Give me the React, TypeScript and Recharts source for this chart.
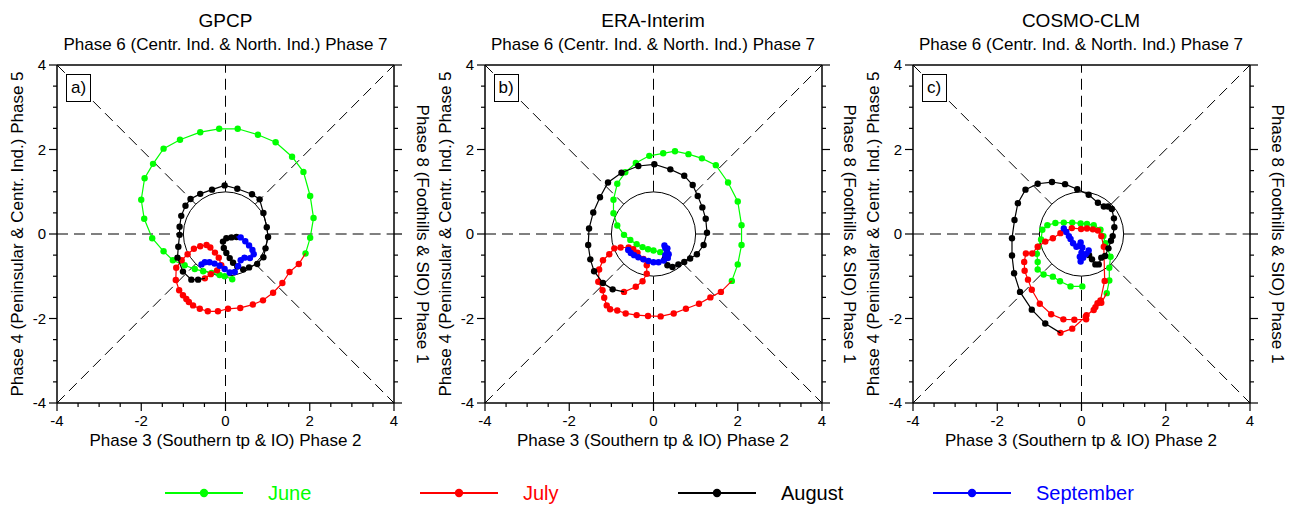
import React from 'react';
import { ScatterChart, Scatter, XAxis, YAxis, ReferenceLine, ReferenceDot } from 'recharts';

type Pt = [number, number];

const MONTHS = ['June', 'July', 'August', 'September'];
const MONTH_COLORS = ['#00ff00', '#ff0000', '#000000', '#0000ff'];
const PANEL_TITLES = ['GPCP', 'ERA-Interim', 'COSMO-CLM'];
const PANEL_TAGS = ['a)', 'b)', 'c)'];
const AXIS_TICKS = [-4, -3.5, -3, -2.5, -2, -1.5, -1, -0.5, 0, 0.5, 1, 1.5, 2, 2.5, 3, 3.5, 4];
const LABELED_TICKS = [-4, -2, 0, 2, 4];
const TOP_LABEL = 'Phase 6 (Centr. Ind. & North. Ind.) Phase 7';
const BOTTOM_LABEL = 'Phase 3 (Southern tp & IO) Phase 2';
const LEFT_LABEL = 'Phase 4 (Peninsular & Centr. Ind.) Phase 5';
const RIGHT_LABEL = 'Phase 8 (Foothills & SIO) Phase 1';

// GPCP (RMM1, RMM2) per day
const gpcpJune: Pt[] = [
  [0.16, -1.07], [-0.02, -1.0], [-0.14, -0.97], [-0.33, -0.92], [-0.53, -0.88], [-0.73, -0.83],
  [-0.97, -0.74], [-1.25, -0.62], [-1.47, -0.41], [-1.74, -0.1], [-1.93, 0.36], [-2.0, 0.81],
  [-1.92, 1.32], [-1.72, 1.66], [-1.47, 2.02], [-1.08, 2.23], [-0.6, 2.41], [-0.15, 2.49],
  [0.29, 2.49], [0.77, 2.35], [1.19, 2.17], [1.58, 1.83], [1.85, 1.47], [2.01, 0.9],
  [2.09, 0.38], [2.01, -0.09], [1.9, -0.46],
];
const gpcpJuly: Pt[] = [
  [1.74, -0.71], [1.52, -0.9], [1.35, -1.16], [1.13, -1.39], [0.89, -1.57], [0.65, -1.67],
  [0.35, -1.75], [0.06, -1.77], [-0.18, -1.83], [-0.42, -1.83], [-0.61, -1.77], [-0.77, -1.69],
  [-0.87, -1.61], [-0.93, -1.54], [-1.01, -1.45], [-1.1, -1.33], [-1.18, -1.09], [-1.17, -0.8],
  [-1.04, -0.62], [-0.9, -0.48], [-0.75, -0.35], [-0.6, -0.29], [-0.45, -0.26], [-0.36, -0.32],
  [-0.25, -0.44], [-0.16, -0.56], [-0.1, -0.74], [-0.2, -0.86], [-0.35, -0.95], [-0.49, -1.05],
];
const gpcpAugust: Pt[] = [
  [-0.65, -1.08], [-0.81, -1.08], [-1.01, -0.89], [-1.14, -0.56], [-1.12, -0.3], [-1.09, -0.02],
  [-1.09, 0.17], [-1.05, 0.43], [-0.95, 0.67], [-0.83, 0.83], [-0.6, 0.95], [-0.32, 1.05],
  [-0.02, 1.15], [0.28, 1.07], [0.63, 0.94], [0.81, 0.82], [0.9, 0.5], [0.98, 0.16],
  [1.01, -0.07], [0.95, -0.34], [0.9, -0.55], [0.75, -0.71], [0.56, -0.79], [0.42, -0.84],
  [0.28, -0.77], [0.18, -0.68], [0.1, -0.57], [0.02, -0.45], [-0.04, -0.33], [-0.06, -0.18],
  [0.02, -0.1], [0.14, -0.08], [0.26, -0.07],
];
const gpcpSeptember: Pt[] = [
  [0.36, -0.08], [0.47, -0.17], [0.56, -0.27], [0.64, -0.38], [0.67, -0.48], [0.58, -0.57],
  [0.45, -0.56], [0.36, -0.62], [0.3, -0.76], [0.22, -0.9], [0.1, -0.91], [-0.02, -0.83],
  [-0.14, -0.75], [-0.26, -0.7], [-0.38, -0.67], [-0.49, -0.67], [-0.57, -0.72],
];

// ERA-Interim
const eraJune: Pt[] = [
  [0.16, -0.43], [0.0, -0.39], [-0.13, -0.36], [-0.26, -0.31], [-0.4, -0.24], [-0.55, -0.14],
  [-0.7, -0.02], [-0.86, 0.2], [-0.95, 0.49], [-0.95, 0.81], [-0.86, 1.19], [-0.67, 1.46],
  [-0.42, 1.68], [-0.1, 1.85], [0.23, 1.91], [0.51, 1.96], [0.83, 1.89], [1.15, 1.79],
  [1.48, 1.63], [1.77, 1.22], [2.0, 0.77], [2.09, 0.21], [2.09, -0.26], [2.0, -0.72],
  [1.86, -1.11],
];
const eraJuly: Pt[] = [
  [1.6, -1.37], [1.35, -1.5], [1.08, -1.65], [0.77, -1.77], [0.48, -1.88], [0.17, -1.95],
  [-0.13, -1.94], [-0.4, -1.92], [-0.66, -1.88], [-0.86, -1.81], [-1.03, -1.78], [-1.11, -1.69],
  [-1.17, -1.51], [-1.21, -1.33], [-1.31, -1.13], [-1.29, -0.84], [-1.2, -0.62], [-1.05, -0.48],
  [-0.93, -0.34], [-0.78, -0.32], [-0.59, -0.32], [-0.48, -0.36], [-0.38, -0.44], [-0.24, -0.59],
  [-0.16, -0.74], [-0.16, -0.94], [-0.26, -1.12], [-0.42, -1.25], [-0.7, -1.37],
];
const eraAugust: Pt[] = [
  [-0.97, -1.31], [-1.2, -1.16], [-1.41, -0.88], [-1.5, -0.6], [-1.55, -0.26], [-1.53, 0.13],
  [-1.43, 0.51], [-1.27, 0.87], [-1.08, 1.22], [-0.76, 1.45], [-0.36, 1.61], [0.02, 1.65],
  [0.4, 1.53], [0.73, 1.38], [0.93, 1.16], [1.05, 0.9], [1.16, 0.63], [1.24, 0.36],
  [1.27, 0.03], [1.19, -0.26], [1.03, -0.48], [0.87, -0.58], [0.73, -0.66], [0.59, -0.72],
  [0.45, -0.78], [0.33, -0.74], [0.27, -0.58],
];
const eraSeptember: Pt[] = [
  [0.28, -0.5], [0.32, -0.42], [0.28, -0.33], [0.26, -0.27], [0.33, -0.34], [0.36, -0.48],
  [0.34, -0.57], [0.24, -0.63], [0.12, -0.67], [0.0, -0.67], [-0.12, -0.64], [-0.24, -0.6],
  [-0.36, -0.55], [-0.46, -0.5], [-0.54, -0.45], [-0.6, -0.38],
];

// COSMO-CLM
const cosmoJune: Pt[] = [
  [0.02, -1.24], [-0.26, -1.24], [-0.51, -1.12], [-0.68, -1.01], [-0.9, -0.96], [-1.04, -0.84],
  [-1.04, -0.66], [-1.06, -0.47], [-1.02, -0.3], [-0.96, -0.13], [-0.93, 0.1], [-0.81, 0.21],
  [-0.62, 0.26], [-0.42, 0.27], [-0.22, 0.27], [-0.02, 0.25], [0.13, 0.24], [0.29, 0.21],
  [0.45, 0.1], [0.52, -0.05], [0.57, -0.22], [0.69, -0.54], [0.66, -0.8], [0.66, -1.1],
  [0.6, -1.4],
];
const cosmoJuly: Pt[] = [
  [0.47, -1.63], [0.38, -1.64], [0.29, -1.8], [0.12, -1.92], [0.11, -2.02], [-0.17, -2.03],
  [-0.43, -2.02], [-0.72, -1.9], [-0.99, -1.65], [-1.18, -1.32], [-1.27, -1.08], [-1.35, -0.87],
  [-1.36, -0.66], [-1.32, -0.46], [-1.17, -0.46], [-1.04, -0.3], [-0.86, -0.18], [-0.68, -0.1],
  [-0.5, 0.02], [-0.23, 0.14], [-0.01, 0.12], [0.13, 0.13], [0.27, 0.11], [0.39, 0.08],
  [0.47, -0.05], [0.53, -0.3], [0.55, -1.11], [0.45, -1.57], [0.33, -1.73], [0.1, -1.96],
  [-0.22, -2.24], [-0.5, -2.34],
];
const cosmoAugust: Pt[] = [
  [-0.86, -2.12], [-1.18, -1.79], [-1.46, -1.37], [-1.6, -0.93], [-1.65, -0.51], [-1.65, -0.1],
  [-1.59, 0.33], [-1.51, 0.73], [-1.33, 1.05], [-1.04, 1.19], [-0.7, 1.23], [-0.39, 1.18],
  [-0.1, 1.06], [0.17, 0.93], [0.39, 0.74], [0.53, 0.65], [0.63, 0.65], [0.72, 0.59],
  [0.77, 0.37], [0.78, 0.16], [0.74, -0.05], [0.7, -0.16], [0.64, -0.34], [0.56, -0.52],
  [0.47, -0.56], [0.41, -0.72], [0.33, -0.72], [0.25, -0.6], [0.18, -0.5],
];
const cosmoSeptember: Pt[] = [
  [0.17, -0.39], [0.1, -0.48], [0.04, -0.56], [-0.02, -0.65], [-0.04, -0.54], [0.0, -0.44],
  [0.02, -0.32], [-0.02, -0.2], [-0.05, -0.28], [-0.12, -0.3], [-0.2, -0.22], [-0.26, -0.12],
  [-0.3, -0.05], [-0.36, 0.05], [-0.42, 0.13],
];

const PANEL_DATA: Pt[][][] = [
  [gpcpJune, gpcpJuly, gpcpAugust, gpcpSeptember],
  [eraJune, eraJuly, eraAugust, eraSeptember],
  [cosmoJune, cosmoJuly, cosmoAugust, cosmoSeptember],
];

// dashed phase dividers, from the unit circle out to the frame
const D = Math.SQRT1_2;
const GUIDES: [Pt, Pt][] = [
  [[-4, 0], [-1, 0]], [[1, 0], [4, 0]], [[0, -4], [0, -1]], [[0, 1], [0, 4]],
  [[-4, 4], [-D, D]], [[D, D], [4, 4]], [[-4, -4], [-D, -D]], [[D, -D], [4, -4]],
];

const W = 427;
const H = 460;
const PANEL_LEFT = [0, 427.5, 855.5];
const AX = { top: 65, bottom: 57, left: 57, right: 33 };
const PLOT_W = W - AX.left - AX.right;
const FONT = '"Liberation Sans", Arial, Helvetica, sans-serif';
const frame = { stroke: '#000', strokeWidth: 1.5 };

const makeTick = (side: 'top' | 'bottom' | 'left' | 'right') => (props: any) => {
  const { x, y, payload } = props;
  const v = payload.value;
  const major = LABELED_TICKS.includes(v);
  const len = major ? 8 : 4;
  let line = null;
  let label = null;
  if (side === 'bottom') {
    line = <line x1={x} y1={y} x2={x} y2={y + len} stroke="#000" strokeWidth={1.2} />;
    if (major) label = <text x={x} y={y + 23} textAnchor="middle" fontSize={15} fill="#000">{v}</text>;
  } else if (side === 'top') {
    line = <line x1={x} y1={y} x2={x} y2={y - len} stroke="#000" strokeWidth={1.2} />;
  } else if (side === 'left') {
    line = <line x1={x} y1={y} x2={x - len} y2={y} stroke="#000" strokeWidth={1.2} />;
    if (major) label = <text x={x - 11} y={y + 5} textAnchor="end" fontSize={15} fill="#000">{v}</text>;
  } else {
    line = <line x1={x} y1={y} x2={x + len} y2={y} stroke="#000" strokeWidth={1.2} />;
  }
  return <g>{line}{label}</g>;
};

const dotShape = (color: string) => (p: any) =>
  p.payload && p.payload.link ? <g /> : <circle cx={p.cx} cy={p.cy} r={3.2} fill={color} />;

function buildSeries(months: Pt[][]) {
  return months.map((pts, i) => {
    const data: any[] = pts.map(([x, y]) => ({ x, y }));
    if (i === 0) return data;
    const prev = months[i - 1][months[i - 1].length - 1];
    return [{ x: prev[0], y: prev[1], link: true }, ...data];
  });
}

const textBase: React.CSSProperties = {
  position: 'absolute',
  whiteSpace: 'nowrap',
  fontFamily: FONT,
  color: '#000',
  lineHeight: 1.15,
};

function Panel({ index }: { index: number }) {
  const series = buildSeries(PANEL_DATA[index]);
  const cx = AX.left + PLOT_W / 2;
  return (
    <div style={{ position: 'absolute', left: PANEL_LEFT[index], top: 0, width: W, height: H, fontFamily: FONT }}>
      <ScatterChart width={W} height={H} margin={{ top: 0, right: 0, bottom: 0, left: 0 }}>
        <XAxis xAxisId="b" type="number" dataKey="x" orientation="bottom" domain={[-4, 4]} ticks={AXIS_TICKS}
          interval={0} height={AX.bottom} tickSize={0} tickMargin={0} tickLine={false} axisLine={frame}
          tick={makeTick('bottom')} allowDataOverflow />
        <XAxis xAxisId="t" type="number" orientation="top" domain={[-4, 4]} ticks={AXIS_TICKS}
          interval={0} height={AX.top} tickSize={0} tickMargin={0} tickLine={false} axisLine={frame}
          tick={makeTick('top')} allowDataOverflow />
        <YAxis yAxisId="l" type="number" dataKey="y" orientation="left" domain={[-4, 4]} ticks={AXIS_TICKS}
          interval={0} width={AX.left} tickSize={0} tickMargin={0} tickLine={false} axisLine={frame}
          tick={makeTick('left')} allowDataOverflow />
        <YAxis yAxisId="r" type="number" orientation="right" domain={[-4, 4]} ticks={AXIS_TICKS}
          interval={0} width={AX.right} tickSize={0} tickMargin={0} tickLine={false} axisLine={frame}
          tick={makeTick('right')} allowDataOverflow />
        {GUIDES.map((g, i) => (
          <ReferenceLine key={`g-${i}`} xAxisId="b" yAxisId="l"
            segment={[{ x: g[0][0], y: g[0][1] }, { x: g[1][0], y: g[1][1] }]}
            stroke="#000" strokeWidth={1} strokeDasharray="11 6" ifOverflow="visible" />
        ))}
        <ReferenceDot xAxisId="b" yAxisId="l" x={0} y={0} r={PLOT_W / 8} fill="none" stroke="#000"
          strokeWidth={1} ifOverflow="visible" />
        {series.map((data, i) => (
          <Scatter key={MONTHS[i]} name={MONTHS[i]} data={data} xAxisId="b" yAxisId="l"
            fill={MONTH_COLORS[i]} line={{ stroke: MONTH_COLORS[i], strokeWidth: 1.2 }} lineType="joint"
            shape={dotShape(MONTH_COLORS[i])} isAnimationActive={false} />
        ))}
      </ScatterChart>

      <div style={{ ...textBase, left: cx, top: 21, fontSize: 19, transform: 'translate(-50%, -50%)' }}>
        {PANEL_TITLES[index]}
      </div>
      <div style={{ ...textBase, left: cx, top: 45, fontSize: 17, transform: 'translate(-50%, -50%)' }}>
        {TOP_LABEL}
      </div>
      <div style={{ ...textBase, left: cx, top: 441, fontSize: 17, transform: 'translate(-50%, -50%)' }}>
        {BOTTOM_LABEL}
      </div>
      <div style={{ ...textBase, left: 18, top: 234, fontSize: 17, transform: 'translate(-50%, -50%) rotate(-90deg)' }}>
        {LEFT_LABEL}
      </div>
      <div style={{ ...textBase, left: 421.5, top: 234, fontSize: 17, transform: 'translate(-50%, -50%) rotate(90deg)' }}>
        {RIGHT_LABEL}
      </div>
      <div style={{
        ...textBase, left: 66, top: 74, width: 25, height: 28, boxSizing: 'border-box',
        border: '1px solid #000', background: '#fff', fontSize: 17,
        display: 'flex', alignItems: 'center', justifyContent: 'center',
      }}>
        {PANEL_TAGS[index]}
      </div>
    </div>
  );
}

const LEGEND_LEFT = [165, 420, 678, 933];

function Legend() {
  return (
    <>
      {MONTHS.map((m, i) => (
        <div key={m} style={{ position: 'absolute', left: LEGEND_LEFT[i], top: 483, height: 20, display: 'flex', alignItems: 'center' }}>
          <svg width={78} height={12} style={{ display: 'block' }}>
            <line x1={0} y1={6} x2={78} y2={6} stroke={MONTH_COLORS[i]} strokeWidth={1.8} />
            <circle cx={39} cy={6} r={4.2} fill={MONTH_COLORS[i]} />
          </svg>
          <span style={{ marginLeft: 25, fontFamily: FONT, fontSize: 20, color: MONTH_COLORS[i], whiteSpace: 'nowrap' }}>{m}</span>
        </div>
      ))}
    </>
  );
}

export default function App() {
  return (
    <div style={{ position: 'absolute', left: 0, top: 0, width: 1295, height: 509, background: '#fff', overflow: 'hidden' }}>
      {PANEL_TITLES.map((_, i) => (
        <Panel key={i} index={i} />
      ))}
      <Legend />
    </div>
  );
}
